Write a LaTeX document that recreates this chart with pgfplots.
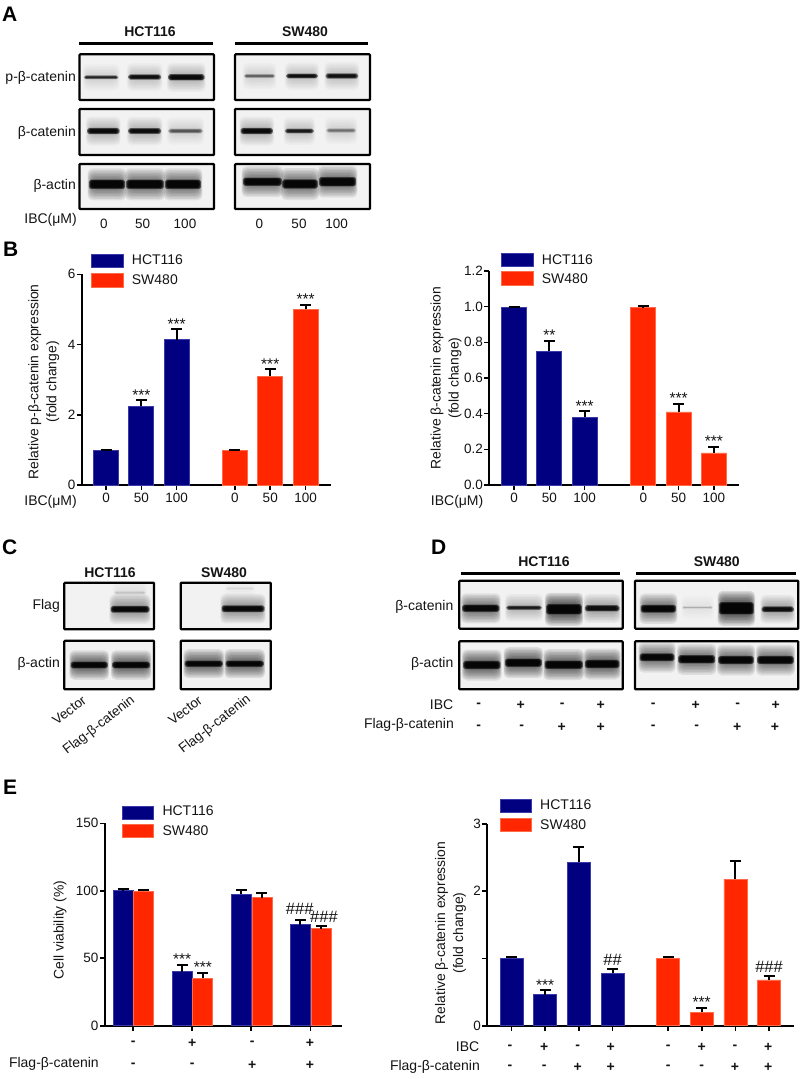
\documentclass[border=0pt]{standalone}
\usepackage{fontspec}
\setmainfont{Liberation Sans}
\usepackage{pgfplots}
\pgfplotsset{compat=1.18}
\definecolor{navy}{HTML}{000080}
\definecolor{navyedge}{HTML}{3A3AA8}
\definecolor{redbar}{HTML}{FF2600}
\definecolor{rededge}{HTML}{FF6A48}
\definecolor{ink}{HTML}{141414}
\newcommand\fs{\fontsize{14}{18}\selectfont}
\newcommand\ft{\fontsize{13.5}{18}\selectfont}
\newcommand\fl{\fontsize{13.9}{18}\selectfont}
\newcommand\fa{\fontsize{15.5}{16}\selectfont}
\newcommand\fh{\fontsize{16.5}{16}\selectfont}
\pgfplotsset{
  fig/.style={
    scale only axis, axis lines=left, axis line style={-,line width=1.8pt,black},
    tick style={line width=1.6pt,black}, major tick length=5pt, tick align=outside,
    xtick pos=bottom, ytick pos=left, ymin=0, clip=false, ybar, enlargelimits=false,
    ticklabel style={font=\ft,text=ink}, label style={font=\fl,text=ink,align=center},
    /pgf/number format/assume math mode=true,
    y tick label style={xshift=2pt},
  },
  bars/.style={
    bar shift=0pt, line width=0.7pt,
    error bars/y dir=plus, error bars/y explicit,
    error bars/error bar style={line width=2pt,black},
    error bars/error mark options={rotate=90,mark size=5.5pt,line width=2pt,black},
  },
  hct/.style={bars,fill=navy,draw=navyedge},
  sw/.style={bars,fill=redbar,draw=rededge},
}
% blurred band: x1 x2 ycentre height opacity halo
\newcommand\band[6]{%
  \foreach \i in {1,...,8}{\fill[black,opacity=#6*1.5,rounded corners=5pt]
     ({#1+2-\i*0.55},{#3-#4/2-\i*1.5}) rectangle ({#2-2+\i*0.55},{#3+#4/2+\i*1.5});}
  \foreach \i in {0,1,2,3}{\fill[black,opacity=#5*0.5,rounded corners=1.8pt]
     ({#1+\i*0.8-1.2},{#3-#4/2+\i*0.5-0.6}) rectangle ({#2-\i*0.8+1.2},{#3+#4/2-\i*0.5+0.6});}
}
\newcommand\blot[5]{%
  \fill[black!5] (#1,#2) rectangle (#3,#4);
  \begin{scope}\clip (#1,#2) rectangle (#3,#4); #5 \end{scope}
  \draw[black,line width=2.2pt,rounded corners=0.8pt] (#1,#2) rectangle (#3,#4);
}
\newcommand\rowtxt[3]{\foreach \p/\s in {#3}{\node[font=\bfseries\fontsize{14}{16}\selectfont,text=ink] at (\p,#1) {\s};}}
\begin{document}
\begin{tikzpicture}
\useasboundingbox (0pt,0pt) rectangle (802pt,-1079pt);
\begin{scope}[x=1pt,y=-1pt]
\tikzset{lab/.style={font=\fs,text=ink,anchor=east,inner sep=0pt},
  hd/.style={font=\bfseries\fontsize{14}{16}\selectfont,text=ink},
  pan/.style={font=\bfseries\fontsize{21}{22}\selectfont,text=black,anchor=west,inner sep=0pt},
  lg/.style={font=\fs,text=ink,anchor=west,inner sep=0pt}}
% panel letters
\node[pan] at (2,14) {A};
\node[pan] at (3,249) {B};
\node[pan] at (2,547) {C};
\node[pan] at (431,547) {D};
\node[pan] at (3,787) {E};
% ---------- A
\node[hd] at (150,31.7) {HCT116};
\node[hd] at (305,31.7) {SW480};
\draw[line width=2.8pt] (79.3,43.3)--(212.7,43.3);
\draw[line width=2.8pt] (235.3,43.3)--(368.3,43.3);
\blot{79.5}{54.3}{214}{100}{\band{85}{117.3}{77.3}{2.5}{.75}{.01}\band{129.3}{160}{77}{4}{.95}{.015}\band{169.3}{203.3}{77.3}{5}{1}{.02}}
\blot{235}{54.3}{370}{100}{\band{245}{274}{76}{2.5}{.4}{.01}\band{287.3}{316.7}{76}{3.5}{.95}{.015}\band{326.7}{357}{76}{4}{.9}{.015}}
\blot{79.5}{109}{214}{155}{\band{88.3}{118.3}{131}{5}{1}{.02}\band{129.3}{160}{131}{4.5}{.95}{.02}\band{169.3}{201.7}{131}{3.5}{.4}{.01}}
\blot{235}{109}{370}{155}{\band{241.7}{271.7}{131}{5}{1}{.02}\band{286}{312.7}{131}{3.5}{.8}{.015}\band{327.3}{355}{130.5}{3}{.3}{.01}}
\blot{79.5}{164}{214}{209}{\band{90}{124}{184.3}{8}{1}{.05}\band{127.3}{162.7}{184.3}{8}{1}{.05}\band{166}{200}{184.3}{8}{1}{.05}}
\blot{235}{164}{370}{209}{\band{244}{280.7}{181.7}{7}{1}{.05}\band{283.3}{316.7}{184}{8}{1}{.05}\band{320}{355}{181.7}{8}{1}{.05}}
\node[lab] at (76,78) {p-β-catenin};
\node[lab] at (76,132.7) {β-catenin};
\node[lab] at (76,186) {β-actin};
\node[lab] at (77,220) {IBC(μM)};
\foreach \p/\s in {104/0,142.7/50,185/100,259.3/0,299/50,336.7/100}{\node[font=\ft,text=ink] at (\p,224) {\s};}
% ---------- C
\node[hd] at (110,572.7) {HCT116};
\node[hd] at (224,572.7) {SW480};
\blot{64.3}{582.7}{154}{629.3}{\band{115}{145}{592.7}{2}{.08}{.004}\band{111.7}{148.3}{609.3}{5.5}{1}{.035}}
\blot{180.7}{582.7}{270.7}{629.3}{\band{226.7}{253.3}{588.5}{1.5}{.04}{.002}\band{222.7}{263.3}{608.7}{5.5}{1}{.035}}
\blot{64.3}{640.7}{154}{689.3}{\band{71.7}{106.7}{665}{5.5}{1}{.06}\band{113.3}{149}{665}{5.5}{1}{.06}}
\blot{180.7}{640.7}{270.7}{689.3}{\band{185.7}{221.7}{663.7}{5}{1}{.06}\band{226.7}{262.7}{663.7}{5}{1}{.06}}
\node[lab] at (60,606) {Flag};
\node[lab] at (60,664) {β-actin};
\foreach \p/\q/\s in {82/690/Vector,130/689/Flag-β-catenin,198/690/Vector,246/688/Flag-β-catenin}{
  \node[font=\ft,text=ink,rotate=38,anchor=north east] at (\p,\q) {\s};}
% ---------- D
\node[hd] at (544,561.7) {HCT116};
\node[hd] at (716.7,561.7) {SW480};
\draw[line width=2.8pt] (460.7,573.3)--(620,573.3);
\draw[line width=2.8pt] (636,573.3)--(796,573.3);
\blot{459.3}{580.7}{622.7}{628.7}{\band{463.3}{498.3}{608.3}{6}{1}{.05}\band{507.3}{540.7}{607.7}{3}{.8}{.02}\band{547.3}{580.7}{609.3}{9}{1}{.07}\band{586}{618.3}{608.3}{5}{.9}{.03}}
\blot{635}{580.7}{798.3}{628.7}{\band{641.7}{675}{608.7}{6.5}{1}{.05}\band{683.3}{711.7}{607.5}{1.2}{.15}{.004}\band{720}{752.7}{608.3}{11}{1}{.07}\band{762.7}{792.7}{609.3}{4.5}{.95}{.03}}
\blot{459.3}{641.3}{622.7}{689.3}{\band{464.3}{499.3}{665}{7}{1}{.06}\band{506}{540.7}{662.7}{7}{1}{.06}\band{545.7}{581.7}{664.7}{7}{1}{.06}\band{586}{618.3}{664}{7}{1}{.06}}
\blot{635}{641.3}{798.3}{689.3}{\band{640.7}{673.3}{657.3}{6.5}{1}{.05}\band{679.3}{714}{659.3}{7}{1}{.05}\band{719.3}{752.7}{660}{7}{1}{.05}\band{758.3}{792.7}{660}{7}{1}{.05}}
\node[lab] at (453.5,607) {β-catenin};
\node[lab] at (453.5,664) {β-actin};
\node[lab] at (453.5,705) {IBC};
\node[lab] at (454,725) {Flag-β-catenin};
\rowtxt{705}{}{478.7/-,520.7/+,562.3/-,600.7/+,653.3/-,695.7/+,737.7/-,775.7/+}
\rowtxt{727}{}{478.7/-,521.7/-,561.7/+,600.7/+,653.3/-,696.7/-,737.3/+,775/+}
% ---------- legends
\foreach \xa/\xb/\ya/\yb/\yc/\yd/\xt/\yt/\yu in {
  91.7/123.3/254/267.7/273.3/287.3/131.7/260/280,
  501.7/533/253.3/266.7/271.7/285.7/541.7/260/278.5,
  122.3/153.3/806/819.3/824.3/837.7/162.3/811/831,
  500/531.7/799/812.7/818.3/831.7/540/805/824.5}{
  \fill[navy,draw=navyedge,line width=.7pt] (\xa,\ya) rectangle (\xb,\yb);
  \fill[redbar,draw=rededge,line width=.7pt] (\xa,\yc) rectangle (\xb,\yd);
  \node[lg] at (\xt,\yt) {HCT116};
  \node[lg] at (\xt,\yu) {SW480};
}
% ---------- row labels
\node[lab] at (77,502) {IBC(μM)};
\node[lab] at (483.5,502) {IBC(μM)};
\node[lab] at (99,1064) {Flag-β-catenin};
\node[lab] at (479.5,1047) {IBC};
\node[lab] at (480,1066.7) {Flag-β-catenin};
\rowtxt{1043.3}{}{133.3/-,192.3/+,252.3/-,310/+}
\rowtxt{1065.7}{}{133.3/-,192.3/-,252.3/+,310/+}
\rowtxt{1047}{}{510/-,544.3/+,577.7/-,610.7/+,668.3/-,701.7/+,735/-,768.3/+}
\rowtxt{1067}{}{510/-,544.3/-,577.7/+,610.7/+,668.3/-,701.7/-,735/+,768.3/+}
\end{scope}

% ---------- B left
\begin{axis}[fig, at={(82pt,-485pt)}, width=249pt, height=210.7pt,
  xmin=-0.68, xmax=6.37, ymax=6, ytick={0,2,4,6},
  xtick={0,1,2,3.65,4.65,5.65}, xticklabels={0,50,100,0,50,100},
  ylabel={Relative p-β-catenin expression\\(fold change)},
  ylabel style={at={(axis description cs:-0.153,0.49)},anchor=center}]
\addplot[hct,bar width=25pt] table[x=x,y=y,y error=e]{
x y e
0 0.98 0.03
1 2.24 0.17
2 4.14 0.29
};
\addplot[sw,bar width=25pt] table[x=x,y=y,y error=e]{
x y e
3.65 0.98 0.03
4.65 3.10 0.19
5.65 5.00 0.14
};
\foreach \a/\b in {1/2.41,2/4.43,4.65/3.29,5.65/5.14}{
  \edef\tmp{\noexpand\node[font=\noexpand\fa,text=ink,anchor=base] at (axis cs:\a,\b) {***};}\tmp}
\end{axis}
% ---------- B right
\begin{axis}[fig, at={(489.3pt,-485pt)}, width=250pt, height=214pt,
  xmin=-0.70, xmax=6.38, ymax=1.2, ytick={0,0.2,0.4,0.6,0.8,1,1.2},
  yticklabel style={/pgf/number format/fixed,/pgf/number format/fixed zerofill,/pgf/number format/precision=1},
  xtick={0,1,2,3.66,4.66,5.66}, xticklabels={0,50,100,0,50,100},
  ylabel={Relative β-catenin expression\\(fold change)},
  ylabel style={at={(axis description cs:-0.173,0.5)},anchor=center}]
\addplot[hct,bar width=25pt] table[x=x,y=y,y error=e]{
x y e
0 0.995 0.002
1 0.75 0.06
2 0.38 0.035
};
\addplot[sw,bar width=25pt] table[x=x,y=y,y error=e]{
x y e
3.66 0.995 0.006
4.66 0.41 0.045
5.66 0.18 0.035
};
\foreach \a/\b/\s in {1/0.81/**,2/0.41/***,4.66/0.455/***,5.66/0.215/***}{
  \edef\tmp{\noexpand\node[font=\noexpand\fa,text=ink,anchor=base] at (axis cs:\a,\b) {\s};}\tmp}
\end{axis}
% ---------- E left
\begin{axis}[fig, at={(105pt,-1025.7pt)}, width=236.7pt, height=202.4pt,
  xmin=-0.475, xmax=3.53, ymax=150, ytick={0,50,100,150},
  xtick={0,1,2,3}, xticklabels={,,,},
  ylabel={Cell viability (\%)},
  ylabel style={at={(axis description cs:-0.19,0.473)},anchor=center}]
\addplot[hct,bar width=20pt] table[x=x,y=y,y error=e]{
x y e
-0.17 100 1
0.83 40 5
1.83 97.6 3
2.83 75 3
};
\addplot[sw,bar width=20pt] table[x=x,y=y,y error=e]{
x y e
0.18 99.5 1.2
1.18 35 4.3
2.18 95 3
3.18 72 1.8
};
\node[font=\fa,text=ink,anchor=base] at (axis cs:0.83,45) {***};
\node[font=\fa,text=ink,anchor=base] at (axis cs:1.18,39.3) {***};
\node[font=\fh,text=ink,anchor=base,yshift=6pt] at (axis cs:2.82,77.8) {\#\#\#};
\node[font=\fh,text=ink,anchor=base,yshift=3pt] at (axis cs:3.23,73.9) {\#\#\#};
\end{axis}
% ---------- E right
\begin{axis}[fig, at={(487.3pt,-1025.7pt)}, width=307pt, height=201.7pt,
  xmin=-0.72, xmax=8.4, ymax=3, ytick={0,1,2,3}, yticklabels={0,,2,3},
  xtick={0,1,2,3,4.65,5.65,6.65,7.65}, xticklabels={,,,,,,,},
  ylabel={Relative β-catenin expression\\(fold change)},
  ylabel style={at={(axis description cs:-0.12,0.46)},anchor=center}]
\addplot[hct,bar width=23pt] table[x=x,y=y,y error=e]{
x y e
0 1.0 0.02
1 0.46 0.07
2 2.43 0.23
3 0.78 0.07
};
\addplot[sw,bar width=23pt] table[x=x,y=y,y error=e]{
x y e
4.65 1.0 0.02
5.65 0.2 0.07
6.65 2.18 0.27
7.65 0.68 0.06
};
\node[font=\fa,text=ink,anchor=base] at (axis cs:1,0.53) {***};
\node[font=\fa,text=ink,anchor=base] at (axis cs:5.65,0.27) {***};
\node[font=\fh,text=ink,anchor=base,yshift=3pt] at (axis cs:3,0.85) {\#\#};
\node[font=\fh,text=ink,anchor=base,yshift=3pt] at (axis cs:7.65,0.74) {\#\#\#};
\end{axis}
\end{tikzpicture}
\end{document}
